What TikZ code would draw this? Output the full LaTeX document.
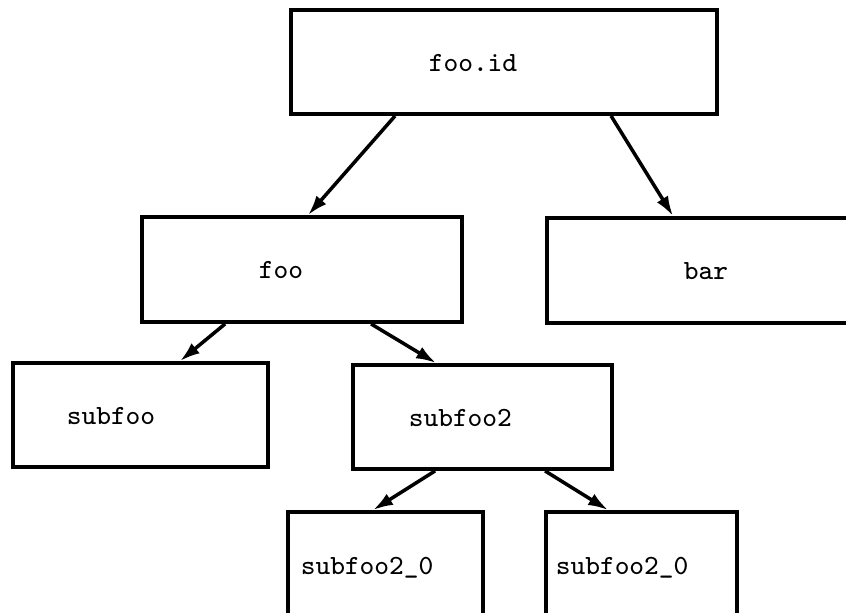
\documentclass[tikz,border=0pt]{standalone}
\usepackage{tikz}
\usetikzlibrary{arrows.meta,positioning}
\begin{document}
\begin{tikzpicture}[box/.style={draw,line width=1.1pt,rectangle,inner sep=0pt},
  lbl/.style={inner sep=0pt,font=\fontsize{7.9}{9}\selectfont\ttfamily,text height=1.5ex,text depth=.25ex},
  edge/.style={line width=1pt,-{Latex[length=2mm,width=1.3mm]}}]
\useasboundingbox (0,0) rectangle (8.46,-6.13);
%root
\node[box,minimum width=4.26cm,minimum height=1.04cm] (fooid) at (5.04,-.62) {}; \node[lbl,right=1.39cm of fooid.west] (fooidtxt) {foo.id};
%second row
\node[box,minimum width=3.2cm,minimum height=1.05cm] (foo) at (3.02,-2.695) {}; \node[lbl,right=1.18cm of foo.west] (footxt) {foo};
\node[box,minimum width=3.23cm,minimum height=1.05cm] (bar) at (7.085,-2.705) {}; \node[lbl,right=1.38cm of bar.west] (bartxt) {bar};
%third row
\node[box,minimum width=2.55cm,minimum height=1.04cm] (subfoo) at (1.405,-4.15) {}; \node[lbl,right=.55cm of subfoo.west] (subfootxt) {subfoo};
\node[box,minimum width=2.59cm,minimum height=1.04cm] (subfoo2) at (4.825,-4.17) {}; \node[lbl,right=.57cm of subfoo2.west] (subfootwotxt) {subfoo2};
%bottom row, cut off by the page
\node[box,minimum width=1.95cm,minimum height=1.06cm] (subzeroa) at (3.855,-5.65) {}; \node[lbl,right=.14cm of subzeroa.west] (subzeroatxt) {subfoo2\_0};
\node[box,minimum width=1.91cm,minimum height=1.06cm] (subzerob) at (6.415,-5.65) {}; \node[lbl,right=.11cm of subzerob.west] (subzerobtxt) {subfoo2\_0};
%arrows
\draw[edge] ([xshift=1.06cm]fooid.south west) -- ([xshift=1.68cm]foo.north west);
\draw[edge] ([xshift=3.22cm]fooid.south west) -- ([xshift=1.28cm]bar.north west);
\draw[edge] ([xshift=.85cm]foo.south west) -- ([xshift=1.69cm]subfoo.north west);
\draw[edge] ([xshift=2.31cm]foo.south west) -- ([xshift=.85cm]subfoo2.north west);
\draw[edge] ([xshift=.84cm]subfoo2.south west) -- ([xshift=.87cm]subzeroa.north west);
\draw[edge] ([xshift=1.94cm]subfoo2.south west) -- ([xshift=.64cm]subzerob.north west);
\end{tikzpicture}
\end{document}
